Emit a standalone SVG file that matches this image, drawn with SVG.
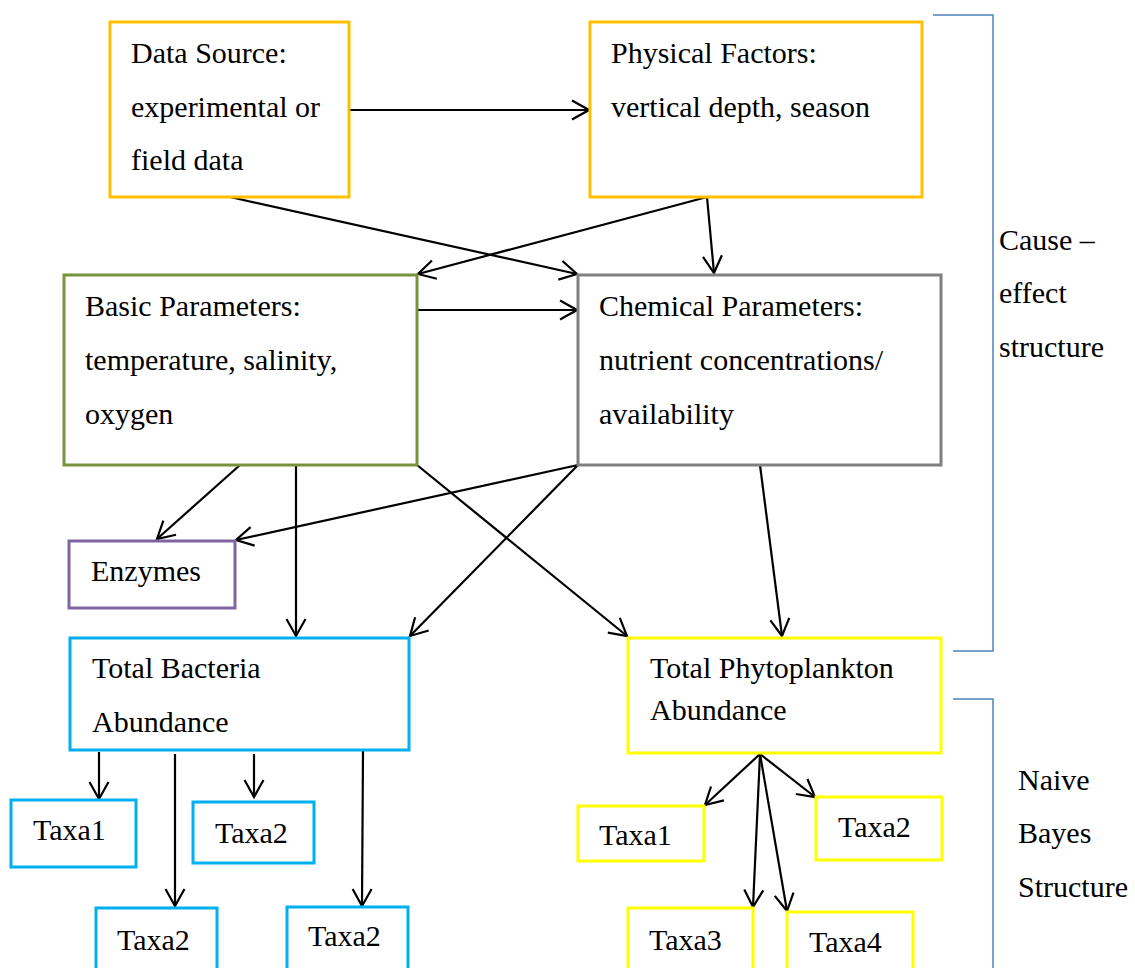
<svg xmlns="http://www.w3.org/2000/svg" width="1135" height="968" viewBox="0 0 1135 968">
  <defs>
    <marker id="arrow" viewBox="0 0 20 22" refX="18.5" refY="11" markerWidth="20" markerHeight="22" markerUnits="userSpaceOnUse" orient="auto">
      <path d="M1.5,1.5 L18.5,11 L1.5,20.5" fill="none" stroke="#000" stroke-width="2.2"/>
    </marker>
  </defs>
  <style>
    text { font-family: "Liberation Serif", "Times New Roman", serif; font-size: 30px; fill: #000; }
    rect { fill: #fff; stroke-width: 3; }
    .orange { stroke: #FFC000; }
    .green { stroke: #77933C; }
    .grey { stroke: #808080; }
    .purple { stroke: #8064A2; }
    .cyan { stroke: #00B0F0; }
    .yellow { stroke: #FFFF00; }
    #connectors line { stroke: #000; stroke-width: 2.2; marker-end: url(#arrow); }
    .bracket { fill: none; stroke: #4F81BD; stroke-width: 1.5; }
  </style>
  <rect x="0" y="0" width="1135" height="968" fill="#fff" stroke="none"/>

  <g id="connectors">
    <line x1="349" y1="110" x2="589" y2="110"/>
    <line x1="230" y1="197" x2="577" y2="274"/>
    <line x1="707" y1="197" x2="418" y2="274"/>
    <line x1="707" y1="197" x2="714" y2="273"/>
    <line x1="417" y1="310" x2="577" y2="310"/>
    <line x1="240" y1="465" x2="157" y2="539"/>
    <line x1="296" y1="465" x2="296" y2="636"/>
    <line x1="417" y1="465" x2="627" y2="636"/>
    <line x1="578" y1="465" x2="236" y2="540"/>
    <line x1="578" y1="465" x2="410" y2="636"/>
    <line x1="760" y1="465" x2="782" y2="636"/>
    <line x1="99" y1="752" x2="99" y2="799"/>
    <line x1="175" y1="754" x2="175" y2="906"/>
    <line x1="254" y1="754" x2="254" y2="797"/>
    <line x1="363" y1="751" x2="362" y2="906"/>
    <line x1="760" y1="754" x2="705" y2="805"/>
    <line x1="760" y1="754" x2="815" y2="797"/>
    <line x1="760" y1="754" x2="753" y2="907"/>
    <line x1="760" y1="754" x2="787" y2="911"/>
  </g>

  <g id="data-source">
    <rect class="orange" x="110" y="22" width="239" height="175"/>
    <text x="131" y="63">Data Source:</text>
    <text x="131" y="117">experimental or</text>
    <text x="131" y="170">field data</text>
  </g>
  <g id="physical-factors">
    <rect class="orange" x="590" y="22" width="332" height="175"/>
    <text x="611" y="63">Physical Factors:</text>
    <text x="611" y="117">vertical depth, season</text>
  </g>
  <g id="basic-parameters">
    <rect class="green" x="64" y="275" width="353" height="190"/>
    <text x="85" y="316">Basic Parameters:</text>
    <text x="85" y="370">temperature, salinity,</text>
    <text x="85" y="424">oxygen</text>
  </g>
  <g id="chemical-parameters">
    <rect class="grey" x="578" y="275" width="363" height="190"/>
    <text x="599" y="316">Chemical Parameters:</text>
    <text x="599" y="370">nutrient concentrations/</text>
    <text x="599" y="424">availability</text>
  </g>
  <g id="enzymes">
    <rect class="purple" x="69" y="541" width="166" height="67"/>
    <text x="91" y="581">Enzymes</text>
  </g>
  <g id="total-bacteria">
    <rect class="cyan" x="70" y="638" width="339" height="112"/>
    <text x="92" y="678">Total Bacteria</text>
    <text x="92" y="732">Abundance</text>
  </g>
  <g id="total-phytoplankton">
    <rect class="yellow" x="628" y="638" width="313" height="115"/>
    <text x="650" y="678">Total Phytoplankton</text>
    <text x="650" y="720">Abundance</text>
  </g>

  <g id="bacteria-taxa1">
    <rect class="cyan" x="11" y="800" width="125" height="67"/>
    <text x="33" y="840">Taxa1</text>
  </g>
  <g id="bacteria-taxa2-a">
    <rect class="cyan" x="193" y="802" width="121" height="61"/>
    <text x="215" y="843">Taxa2</text>
  </g>
  <g id="bacteria-taxa2-b">
    <rect class="cyan" x="96" y="908" width="121" height="70"/>
    <text x="117" y="950">Taxa2</text>
  </g>
  <g id="bacteria-taxa2-c">
    <rect class="cyan" x="287" y="907" width="121" height="70"/>
    <text x="308" y="946">Taxa2</text>
  </g>

  <g id="phyto-taxa1">
    <rect class="yellow" x="578" y="806" width="126" height="55"/>
    <text x="599" y="845">Taxa1</text>
  </g>
  <g id="phyto-taxa2">
    <rect class="yellow" x="816" y="797" width="126" height="63"/>
    <text x="838" y="837">Taxa2</text>
  </g>
  <g id="phyto-taxa3">
    <rect class="yellow" x="628" y="908" width="125" height="70"/>
    <text x="649" y="950">Taxa3</text>
  </g>
  <g id="phyto-taxa4">
    <rect class="yellow" x="787" y="912" width="126" height="66"/>
    <text x="809" y="952">Taxa4</text>
  </g>

  <g id="cause-effect-bracket">
    <path class="bracket" d="M933,15 H993 V651 H953"/>
    <text x="999" y="250">Cause –</text>
    <text x="999" y="303">effect</text>
    <text x="999" y="357">structure</text>
  </g>
  <g id="naive-bayes-bracket">
    <path class="bracket" d="M953,699 H993 V968"/>
    <text x="1018" y="790">Naive</text>
    <text x="1018" y="843">Bayes</text>
    <text x="1018" y="897">Structure</text>
  </g>
</svg>
